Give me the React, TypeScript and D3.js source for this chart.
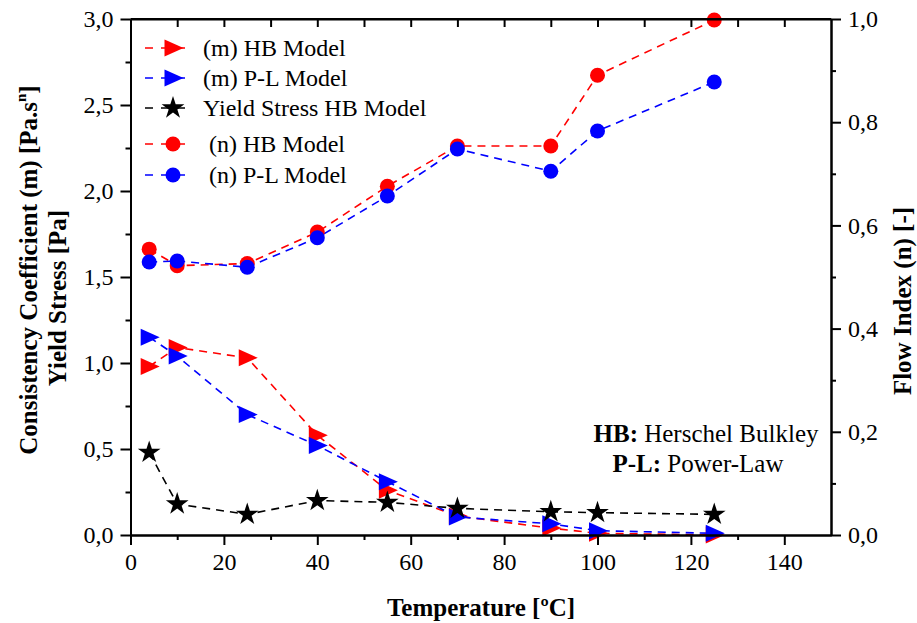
import { useRef, useEffect } from "react";
import * as d3 from "d3";

// temperatures (ºC)
const temps = [4, 10, 25, 40, 55, 70, 90, 100, 125];

// consistency coefficient m [Pa.s^n] (left axis)
const mHB = [0.98, 1.09, 1.03, 0.58, 0.26, 0.11, 0.04, 0.01, 0.0];
const mPL = [1.15, 1.04, 0.7, 0.52, 0.31, 0.105, 0.065, 0.025, 0.01];
// yield stress HB [Pa] (left axis)
const yieldHB = [0.48, 0.18, 0.12, 0.2, 0.19, 0.155, 0.135, 0.13, 0.12];
// flow index n [-] (right axis)
const nHB = [0.554, 0.522, 0.526, 0.587, 0.676, 0.754, 0.754, 0.891, 0.998];
const nPL = [0.529, 0.531, 0.519, 0.576, 0.657, 0.748, 0.705, 0.783, 0.878];

const legendLabels = [
  "(m) HB Model",
  "(m) P-L Model",
  "Yield Stress HB Model",
  " (n) HB Model",
  " (n) P-L Model",
];

const W = 917;
const H = 623;
const left = 130.5;
const right = 831;
const top = 19;
const bottom = 535;
const FONT = "'Liberation Serif', 'Times New Roman', serif";

const comma = (f: string) => (d: d3.NumberValue) => d3.format(f)(d).replace(".", ",");

function Marker({ type, x, y, color }: { type: string; x: number; y: number; color: string }) {
  if (type === "circle") return <circle cx={x} cy={y} r={7.5} fill={color} />;
  if (type === "tri") {
    const s = 8.5;
    return <path d={`M${x - s},${y - s}L${x + s + 2},${y}L${x - s},${y + s}Z`} fill={color} />;
  }
  const star = d3.symbol(d3.symbolStar, 160)();
  return <path d={star || ""} transform={`translate(${x},${y})`} fill={color} />;
}

export default function App() {
  const gx = useRef<SVGGElement | null>(null);
  const gxMinor = useRef<SVGGElement | null>(null);
  const gTop = useRef<SVGGElement | null>(null);
  const gyL = useRef<SVGGElement | null>(null);
  const gyLMinor = useRef<SVGGElement | null>(null);
  const gyR = useRef<SVGGElement | null>(null);
  const gyRMinor = useRef<SVGGElement | null>(null);

  const x = d3.scaleLinear().domain([0, 150]).range([left, right]);
  const yL = d3.scaleLinear().domain([0, 3]).range([bottom, top]);
  const yR = d3.scaleLinear().domain([0, 1]).range([bottom, top]);

  const series = [
    { vals: mHB, y: yL, color: "#ff0000", type: "tri" },
    { vals: mPL, y: yL, color: "#0000ff", type: "tri" },
    { vals: yieldHB, y: yL, color: "#000000", type: "star" },
    { vals: nHB, y: yR, color: "#ff0000", type: "circle" },
    { vals: nPL, y: yR, color: "#0000ff", type: "circle" },
  ];

  useEffect(() => {
    const style = (g: d3.Selection<SVGGElement, unknown, null, undefined>) => {
      g.attr("font-family", FONT).attr("font-size", 24);
      g.selectAll("path.domain").attr("stroke-width", 2);
      g.selectAll(".tick line").attr("stroke-width", 2);
      g.selectAll(".tick text").attr("fill", "#000");
    };
    if (gx.current)
      d3.select(gx.current)
        .call(d3.axisBottom(x).tickValues(d3.range(0, 141, 20)).tickSize(10).tickPadding(8).tickSizeOuter(0))
        .call(style);
    if (gxMinor.current)
      d3.select(gxMinor.current)
        .call(d3.axisBottom(x).tickValues(d3.range(10, 150, 20)).tickSize(5).tickFormat(() => "").tickSizeOuter(0))
        .call(style);
    if (gTop.current)
      d3.select(gTop.current)
        .call(d3.axisBottom(x).tickValues(d3.range(10, 150, 10)).tickSize(8).tickFormat(() => "").tickSizeOuter(0))
        .call(style);
    if (gyL.current)
      d3.select(gyL.current)
        .call(d3.axisLeft(yL).tickValues(d3.range(0, 3.01, 0.5)).tickSize(10).tickPadding(7).tickFormat(comma(".1f")).tickSizeOuter(0))
        .call(style);
    if (gyLMinor.current)
      d3.select(gyLMinor.current)
        .call(d3.axisLeft(yL).tickValues(d3.range(0.25, 3, 0.5)).tickSize(5).tickFormat(() => "").tickSizeOuter(0))
        .call(style);
    if (gyR.current)
      d3.select(gyR.current)
        .call(d3.axisRight(yR).tickValues(d3.range(0, 1.01, 0.2)).tickSize(10).tickPadding(7).tickFormat(comma(".1f")).tickSizeOuter(0))
        .call(style);
    if (gyRMinor.current)
      d3.select(gyRMinor.current)
        .call(d3.axisRight(yR).tickValues(d3.range(0.1, 1, 0.2)).tickSize(5).tickFormat(() => "").tickSizeOuter(0))
        .call(style);
  }, []);

  return (
    <svg width={W} height={H} style={{ position: "absolute", left: 0, top: 0, background: "#fff" }} fontFamily={FONT}>
      <rect width={W} height={H} fill="#fff" />
      {/* data lines */}
      {series.map((s, i) => {
        const line = d3
          .line<number>()
          .x((_, j) => x(temps[j]))
          .y(d => s.y(d));
        return (
          <path key={"l" + i} d={line(s.vals) || undefined} fill="none" stroke={s.color} strokeWidth={1.6} strokeDasharray="8,6" />
        );
      })}
      {series.map((s, i) => (
        <g key={"m" + i}>
          {s.vals.map((v, j) => (
            <Marker key={j} type={s.type} x={x(temps[j])} y={s.y(v)} color={s.color} />
          ))}
        </g>
      ))}

      {/* axes */}
      <g ref={gTop} transform={`translate(0,${top})`} />
      <line x1={left} x2={right} y1={top} y2={top} stroke="#000" strokeWidth={2} />
      <g ref={gx} transform={`translate(0,${bottom})`} />
      <g ref={gxMinor} transform={`translate(0,${bottom})`} />
      <g ref={gyL} transform={`translate(${left},0)`} />
      <g ref={gyLMinor} transform={`translate(${left},0)`} />
      <g ref={gyR} transform={`translate(${right},0)`} />
      <g ref={gyRMinor} transform={`translate(${right},0)`} />

      {/* legend */}
      {series.map((s, i) => {
        const ly = [48, 78, 108, 144, 175][i];
        return (
          <g key={"lg" + i}>
            <line x1={145} x2={192} y1={ly} y2={ly} stroke={s.color} strokeWidth={1.6} strokeDasharray="8,8" />
            <Marker type={s.type} x={173} y={ly} color={s.color} />
            <text x={203} y={ly + 8} fontSize={24} xmlSpace="preserve" style={{ whiteSpace: "pre" }}>
              {legendLabels[i]}
            </text>
          </g>
        );
      })}

      {/* notes */}
      <text x={706} y={442} fontSize={25} textAnchor="middle">
        <tspan fontWeight="bold">HB:</tspan> Herschel Bulkley
      </text>
      <text x={698} y={472} fontSize={25} textAnchor="middle">
        <tspan fontWeight="bold">P-L:</tspan> Power-Law
      </text>

      {/* axis titles */}
      <text x={481} y={616} fontSize={25} fontWeight="bold" textAnchor="middle">
        Temperature [ºC]
      </text>
      <text transform="translate(37,270) rotate(-90)" fontSize={25} fontWeight="bold" textAnchor="middle">
        Consistency Coefficient (m) [Pa.s<tspan fontSize={15} dy={-11}>n</tspan>
        <tspan dy={11}>]</tspan>
      </text>
      <text transform="translate(66,298) rotate(-90)" fontSize={25} fontWeight="bold" textAnchor="middle">
        Yield Stress [Pa]
      </text>
      <text transform="translate(911,301) rotate(-90)" fontSize={25} fontWeight="bold" textAnchor="middle">
        Flow Index (n) [-]
      </text>
    </svg>
  );
}
